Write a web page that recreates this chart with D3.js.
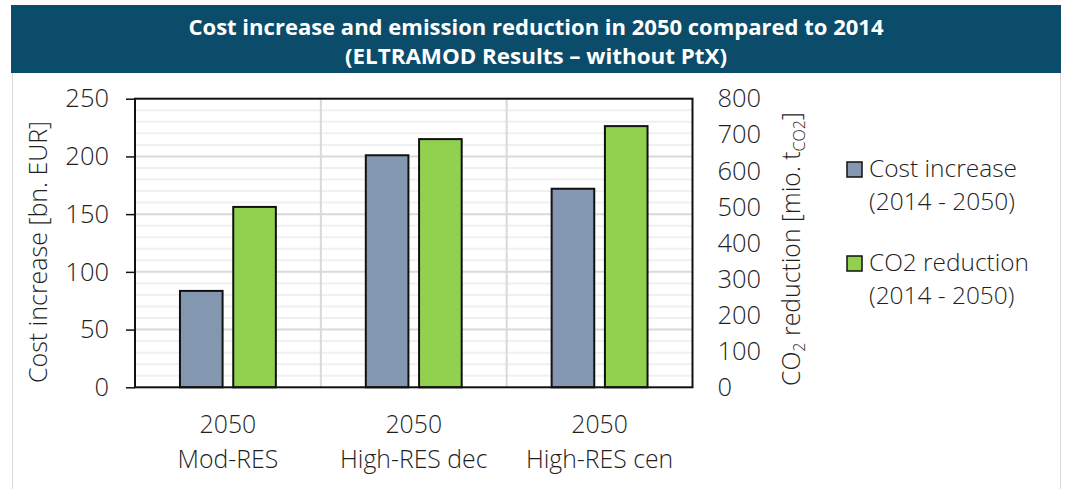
<!DOCTYPE html>
<html>
<head>
<meta charset="utf-8">
<script src="https://cdn.jsdelivr.net/npm/d3@7/dist/d3.min.js"></script>
<style>
  html, body { margin: 0; padding: 0; background: #fff; }
  svg { display: block; }
  text { font-family: "Open Sans", "Noto Sans", sans-serif; fill: #1f1f1f; }
</style>
</head>
<body>
<svg id="chart" width="1069" height="489"></svg>
<script>
// Scenario categories (two-line labels)
const categories = ["2050 Mod-RES", "2050 High-RES dec", "2050 High-RES cen"];
const categoryLines = [["2050", "Mod-RES"], ["2050", "High-RES dec"], ["2050", "High-RES cen"]];
// Series
const seriesNames = ["Cost increase", "CO2 reduction"];
const costIncrease = [83.5, 201, 172];     // bn. EUR (left axis)
const co2Reduction = [500, 688, 724];      // mio. t CO2 (right axis)
// Axis ticks
const leftTicks = [0, 50, 100, 150, 200, 250];
const rightTicks = [0, 100, 200, 300, 400, 500, 600, 700, 800];
const minorTicks = d3.range(0, 251, 10);

const svg = d3.select("#chart");

const plot = { left: 135, right: 692.5, top: 98.7, bottom: 387.3 };

// Outer frame and title banner
svg.append("rect").attr("x", 12.5).attr("y", 70.5).attr("width", 1048).attr("height", 420)
  .attr("fill", "#fff").attr("stroke", "#d9d9d9").attr("stroke-width", 1);
svg.append("rect").attr("x", 11).attr("y", 5).attr("width", 1050).attr("height", 68)
  .attr("fill", "#0c4c6b");

function fitText(sel, target) {
  const node = sel.node();
  let fs = parseFloat(sel.attr("font-size"));
  for (let i = 0; i < 4; i++) {
    const w = node.getComputedTextLength();
    fs = fs * target / w;
    sel.attr("font-size", fs);
  }
}

const t1 = svg.append("text").attr("x", 536).attr("y", 35).attr("text-anchor", "middle")
  .attr("font-size", 22).attr("font-weight", 700).style("fill", "#fff")
  .text("Cost increase and emission reduction in 2050 compared to 2014");
const t2 = svg.append("text").attr("x", 536).attr("y", 64).attr("text-anchor", "middle")
  .attr("font-size", 22).attr("font-weight", 700).style("fill", "#fff")
  .text("(ELTRAMOD Results \u2013 without PtX)");
t1.attr("textLength", 695).attr("lengthAdjust", "spacingAndGlyphs");
t2.attr("textLength", 382).attr("lengthAdjust", "spacingAndGlyphs");

// Scales
const yL = d3.scaleLinear().domain([0, 250]).range([plot.bottom, plot.top]);
const yR = d3.scaleLinear().domain([0, 800]).range([plot.bottom, plot.top]);
const x0 = d3.scaleBand().domain(categories).range([plot.left, plot.right]);
const bw = x0.bandwidth();
const x1 = d3.scaleBand().domain(seriesNames).range([bw * 0.242, bw * 0.758]).paddingInner(0.2);

// Minor gridlines
svg.append("g").selectAll("line").data(minorTicks.filter(v => v % 50 !== 0)).join("line")
  .attr("x1", plot.left).attr("x2", plot.right)
  .attr("y1", d => yL(d)).attr("y2", d => yL(d))
  .attr("stroke", "#f0f0f0").attr("stroke-width", 2);
// Major gridlines
svg.append("g").selectAll("line").data(leftTicks.filter(v => v > 0 && v < 250)).join("line")
  .attr("x1", plot.left).attr("x2", plot.right)
  .attr("y1", d => yL(d)).attr("y2", d => yL(d))
  .attr("stroke", "#d9d9d9").attr("stroke-width", 2);
// Category separators
svg.append("g").selectAll("line").data(categories.slice(1)).join("line")
  .attr("x1", d => x0(d)).attr("x2", d => x0(d))
  .attr("y1", plot.top).attr("y2", plot.bottom)
  .attr("stroke", "#d9d9d9").attr("stroke-width", 2);

// Bars
const g = svg.append("g");
categories.forEach((c, i) => {
  g.append("rect")
    .attr("x", x0(c) + x1("Cost increase")).attr("width", x1.bandwidth())
    .attr("y", yL(costIncrease[i])).attr("height", plot.bottom - yL(costIncrease[i]))
    .attr("fill", "#8497b0").attr("stroke", "#111").attr("stroke-width", 2);
  g.append("rect")
    .attr("x", x0(c) + x1("CO2 reduction")).attr("width", x1.bandwidth())
    .attr("y", yR(co2Reduction[i])).attr("height", plot.bottom - yR(co2Reduction[i]))
    .attr("fill", "#92d050").attr("stroke", "#111").attr("stroke-width", 2);
});

// Plot border
svg.append("rect").attr("x", plot.left).attr("y", plot.top)
  .attr("width", plot.right - plot.left).attr("height", plot.bottom - plot.top)
  .attr("fill", "none").attr("stroke", "#111").attr("stroke-width", 2);

// Left axis
const axL = svg.append("g").attr("transform", `translate(${plot.left},0)`)
  .call(d3.axisLeft(yL).tickValues(leftTicks).tickSize(9).tickPadding(17));
axL.select(".domain").remove();
axL.selectAll(".tick line").attr("stroke", "#111").attr("stroke-width", 1.5);
axL.selectAll(".tick text").attr("font-size", 25.5).attr("font-family", "Open Sans")
  .attr("font-weight", 300).style("fill", "#1f1f1f");

// Right axis
const axR = svg.append("g").attr("transform", `translate(${plot.right},0)`)
  .call(d3.axisRight(yR).tickValues(rightTicks).tickSize(0).tickPadding(25));
axR.select(".domain").remove();
axR.selectAll(".tick text").attr("font-size", 25.5).attr("font-family", "Open Sans")
  .attr("font-weight", 300).style("fill", "#1f1f1f");

// Category labels
const xl = svg.append("g");
categories.forEach((c, i) => {
  const cx = x0(c) + bw / 2;
  categoryLines[i].forEach((line, j) => {
    xl.append("text").attr("x", cx).attr("y", 433 + j * 35).attr("text-anchor", "middle")
      .attr("font-size", 24.8).attr("font-weight", 300).text(line);
  });
});

// Axis titles
const lt = svg.append("text").attr("transform", "translate(47,252) rotate(-90)")
  .attr("text-anchor", "middle").attr("font-size", 23).attr("font-weight", 300)
  .text("Cost increase [bn. EUR]");
fitText(lt, 262);

const rt = svg.append("text").attr("transform", "translate(800,249) rotate(-90)")
  .attr("text-anchor", "middle").attr("font-size", 23).attr("font-weight", 300);
rt.append("tspan").text("CO");
rt.append("tspan").attr("font-size", "0.65em").attr("dy", 5).text("2");
rt.append("tspan").attr("dy", -5).text(" reduction [mio. t");
rt.append("tspan").attr("font-size", "0.65em").attr("dy", 5).text("CO2");
rt.append("tspan").attr("dy", -5).text("]");
fitText(rt, 274);

// Legend
const legend = [
  { name: "Cost increase", sub: "(2014 - 2050)", color: "#8497b0", y: 162, w: 148 },
  { name: "CO2 reduction", sub: "(2014 - 2050)", color: "#92d050", y: 256, w: 160 }
];
legend.forEach(d => {
  svg.append("rect").attr("x", 847).attr("y", d.y).attr("width", 15).attr("height", 15)
    .attr("fill", d.color).attr("stroke", "#111").attr("stroke-width", 1.5);
  const nm = svg.append("text").attr("x", 869).attr("y", d.y + 15).attr("font-size", 22)
    .attr("font-weight", 300).text(d.name);
  fitText(nm, d.w);
  svg.append("text").attr("x", 869).attr("y", d.y + 48).attr("font-size", nm.attr("font-size"))
    .attr("font-weight", 300).text(d.sub);
});
</script>
</body>
</html>
